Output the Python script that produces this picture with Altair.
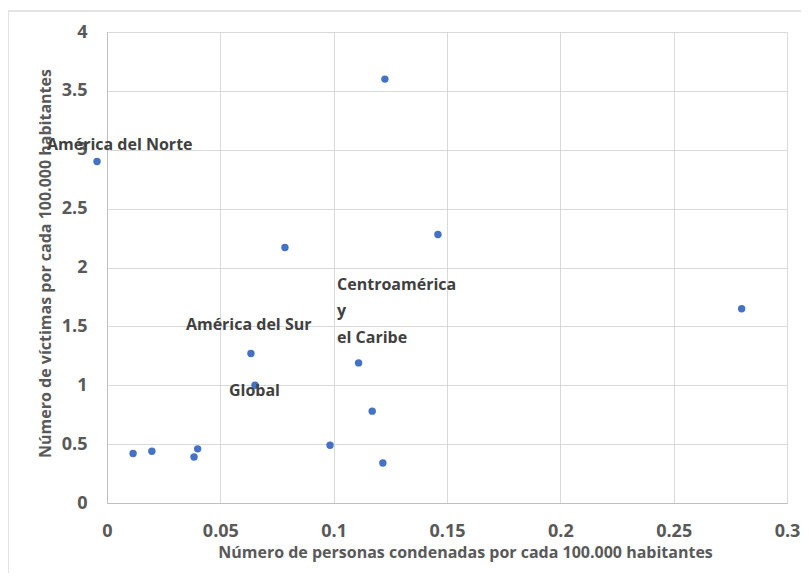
import altair as alt
import pandas as pd

# Data points (x: convicted persons per 100k, y: victims per 100k)
xs = [-0.0044, 0.1226, 0.0785, 0.146, 0.280, 0.0635, 0.0653, 0.111, 0.117,
      0.0984, 0.1217, 0.0115, 0.0198, 0.0384, 0.040]
ys = [2.90, 3.60, 2.17, 2.28, 1.65, 1.27, 1.00, 1.19, 0.78,
      0.49, 0.34, 0.42, 0.44, 0.39, 0.46]

# Annotation labels
label_texts = ["América del Norte", "América del Sur", "Global",
               "Centroamérica", "y", "el Caribe"]
label_x = [-0.0265, 0.0348, 0.0538, 0.1015, 0.1015, 0.1015]
label_y = [3.04, 1.51, 0.951, 1.85, 1.63, 1.40]

x_ticks = [0, 0.05, 0.1, 0.15, 0.2, 0.25, 0.3]
y_ticks = [0, 0.5, 1, 1.5, 2, 2.5, 3, 3.5, 4]

pts = pd.DataFrame({"x": xs, "y": ys})
labs = pd.DataFrame({"label": label_texts, "x": label_x, "y": label_y})

FONT = "Open Sans"
W, H = 680, 471

xscale = alt.Scale(domain=[0, 0.3], nice=False, zero=False)
yscale = alt.Scale(domain=[0, 4], nice=False, zero=False)

xaxis = alt.Axis(
    title="Número de personas condenadas por cada 100.000 habitantes",
    values=x_ticks, format="~g", grid=True, gridColor="#d9d9d9",
    domainColor="#bfbfbf", ticks=False, labelPadding=19, labelFlush=False,
    labelFont=FONT, labelFontSize=18, labelFontWeight="bold", labelColor="#595959",
    titleFont=FONT, titleFontSize=16, titleFontWeight="bold", titleColor="#595959",
    titleX=358, titleY=49, titleBaseline="middle", titleAlign="center",
)
yaxis = alt.Axis(
    title="Número de víctimas por cada 100.000 habitantes",
    values=y_ticks, format="~g", grid=True, gridColor="#d9d9d9",
    domainColor="#bfbfbf", ticks=False, labelPadding=20, labelFlush=False,
    labelFont=FONT, labelFontSize=18, labelFontWeight="bold", labelColor="#595959",
    titleFont=FONT, titleFontSize=16, titleFontWeight="bold", titleColor="#595959",
    titleX=-62, titleY=231, titleBaseline="middle", titleAlign="center", titleAngle=270,
)

points = alt.Chart(pts).mark_circle(size=55, color="#4472C4", opacity=1).encode(
    x=alt.X("x:Q", scale=xscale, axis=xaxis),
    y=alt.Y("y:Q", scale=yscale, axis=yaxis),
)

texts = alt.Chart(labs).mark_text(
    align="left", baseline="middle", font=FONT, fontSize=16,
    fontWeight="bold", color="#404040"
).encode(
    x=alt.X("x:Q", scale=xscale),
    y=alt.Y("y:Q", scale=yscale),
    text="label:N",
)

frame_top = alt.Chart(pts).mark_rule(color="#e3e3e3", strokeWidth=2).encode(
    x=alt.value(-99), x2=alt.value(W + 14), y=alt.value(-21)
)
frame_left = alt.Chart(pts).mark_rule(color="#e3e3e3", strokeWidth=2).encode(
    x=alt.value(-99), y=alt.value(-21), y2=alt.value(H + 70)
)

chart = alt.layer(frame_top, frame_left, points, texts).properties(
    width=W, height=H,
    autosize=alt.AutoSizeParams(type="none"),
    padding={"left": 99, "top": 24, "right": 14, "bottom": 70},
).configure_view(stroke=None).configure(background="white")

chart.save("out.html", embed_options={"renderer": "svg", "actions": False})
